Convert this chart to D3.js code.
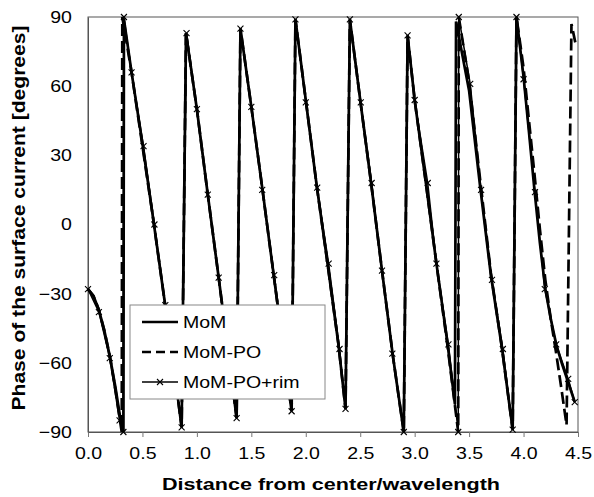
<!DOCTYPE html>
<html>
<head>
<meta charset="utf-8">
<script src="https://cdn.jsdelivr.net/npm/d3@7"></script>
<style>
  body { margin: 0; background: #fff; }
  text { font-family: Arial, "Liberation Sans", sans-serif; }
</style>
</head>
<body>
<script>

let xTicks = [0, 0.5, 1, 1.5, 2, 2.5, 3, 3.5, 4, 4.5];
let yTicks = [-90, -60, -30, 0, 30, 60, 90];
let seriesNames = ["MoM", "MoM-PO", "MoM-PO+rim"];

// MoM (solid)
let distMoM = [0, 0.05, 0.10, 0.15, 0.20, 0.25, 0.30, 0.325, 0.33,
  0.40, 0.50, 0.60, 0.70, 0.80, 0.86, 0.90,
  1.00, 1.10, 1.20, 1.30, 1.365, 1.40,
  1.50, 1.60, 1.70, 1.80, 1.87, 1.905,
  2.00, 2.10, 2.20, 2.30, 2.365, 2.405,
  2.50, 2.60, 2.70, 2.80, 2.90, 2.935,
  3.00, 3.10, 3.20, 3.30, 3.37, 3.38,
  3.50, 3.60, 3.70, 3.80, 3.90, 3.935,
  4.00, 4.05, 4.10, 4.15, 4.20, 4.25, 4.30, 4.35, 4.40, 4.47];
let phaseMoM = [-28, -31, -37, -46, -57, -70, -85, -90, 89,
  66, 35, 2, -32, -66, -88, 83,
  50, 13, -23, -60, -84, 85,
  51, 16, -20, -56, -81, 89,
  54, 17, -17, -52, -80, 89,
  54, 18, -20, -57, -90, 82,
  54, 19, -17, -51, -78, 88,
  58, 17, -22, -53, -89, 90,
  64, 40, 15, -8, -28, -41, -52, -60, -67, -77];

// MoM-PO (dashed)
let distPO = [0, 0.05, 0.10, 0.15, 0.20, 0.25, 0.30, 0.31, 0.315,
  0.40, 0.50, 0.60, 0.70, 0.80, 0.86, 0.90,
  1.00, 1.10, 1.20, 1.30, 1.365, 1.40,
  1.50, 1.60, 1.70, 1.80, 1.87, 1.905,
  2.00, 2.10, 2.20, 2.30, 2.365, 2.405,
  2.50, 2.60, 2.70, 2.80, 2.90, 2.935,
  3.00, 3.10, 3.20, 3.30, 3.40, 3.405,
  3.50, 3.60, 3.70, 3.80, 3.90, 3.935,
  4.00, 4.05, 4.10, 4.15, 4.20, 4.25, 4.30, 4.35, 4.395, 4.44, 4.475];
let phasePO = [-28, -31, -37, -46, -57, -71, -87, -90, 90,
  66, 34, 2, -32, -66, -88, 83,
  50, 13, -23, -60, -84, 85,
  51, 16, -20, -56, -81, 89,
  54, 17, -17, -52, -80, 89,
  54, 18, -20, -57, -90, 82,
  54, 19, -17, -52, -90, 90,
  62, 20, -21, -53, -89, 90,
  68, 45, 22, -2, -24, -41, -56, -72, -87, 87, 79];

// MoM-PO+rim (solid with x markers)
let distRim = [0, 0.10, 0.20, 0.29, 0.325, 0.33,
  0.40, 0.51, 0.61, 0.71, 0.81, 0.86, 0.905,
  1.00, 1.10, 1.20, 1.30, 1.365, 1.40,
  1.50, 1.60, 1.71, 1.81, 1.87, 1.905,
  2.00, 2.105, 2.21, 2.31, 2.365, 2.405,
  2.505, 2.605, 2.70, 2.795, 2.90, 2.935,
  3.00, 3.12, 3.20, 3.31, 3.40, 3.405,
  3.51, 3.61, 3.71, 3.81, 3.90, 3.935,
  4.00, 4.105, 4.195, 4.30, 4.41, 4.47];
let phaseRim = [-28, -38, -58, -85, -90, 90,
  66, 34, 0, -35, -69, -88, 83,
  50, 13, -23, -60, -84, 85,
  51, 15, -22, -58, -81, 89,
  53, 16, -17, -54, -80, 89,
  53, 18, -20, -56, -90, 82,
  54, 18, -17, -52, -90, 90,
  61, 15, -24, -54, -89, 90,
  63, 14, -28, -52, -67, -77];

let canvasW = 594;
let canvasH = 497;
let plotL = 88, plotR = 578, plotT = 17, plotB = 432;
let stretch = 1.15; // the original text is drawn a bit wide

let svg = d3.select("body").append("svg")
  .attr("width", canvasW)
  .attr("height", canvasH);

let x = d3.scaleLinear().domain([0, 4.5]).range([plotL, plotR]);
let y = d3.scaleLinear().domain([-90, 90]).range([plotB, plotT]);

// frame
svg.append("rect")
  .attr("x", plotL).attr("y", plotT)
  .attr("width", plotR - plotL).attr("height", plotB - plotT)
  .attr("fill", "none")
  .attr("stroke", "#555")
  .attr("stroke-width", 1);

let xAxis = svg.append("g")
  .attr("transform", "translate(0," + plotB + ")")
  .call(d3.axisBottom(x).tickValues(xTicks).tickFormat(d3.format(".1f")).tickSize(5).tickPadding(10));

let yAxis = svg.append("g")
  .attr("transform", "translate(" + plotL + ",0)")
  .call(d3.axisLeft(y).tickValues(yTicks).tickSize(0).tickPadding(14));

[xAxis, yAxis].forEach(g => {
  g.select(".domain").attr("stroke", "#555");
  g.selectAll(".tick line").attr("stroke", "#777");
  g.selectAll(".tick text")
    .attr("font-size", "17px")
    .attr("fill", "#000")
    .attr("transform", "scale(" + stretch + ",1)");
});

svg.append("text")
  .attr("x", (plotL + plotR) / 2 - 2)
  .attr("y", 490)
  .attr("text-anchor", "middle")
  .attr("font-size", "17px")
  .attr("font-weight", "bold")
  .attr("textLength", 338)
  .attr("lengthAdjust", "spacingAndGlyphs")
  .text("Distance from center/wavelength");

svg.append("text")
  .attr("transform", "translate(25," + 218 + ") rotate(-90)")
  .attr("text-anchor", "middle")
  .attr("font-size", "19px")
  .attr("font-weight", "bold")
  .attr("textLength", 385)
  .attr("lengthAdjust", "spacingAndGlyphs")
  .text("Phase of the surface current [degrees]");

let line = d3.line()
  .x(d => x(d[0]))
  .y(d => y(d[1]));

let momData = d3.zip(distMoM, phaseMoM);
let poData = d3.zip(distPO, phasePO);
let rimData = d3.zip(distRim, phaseRim);

svg.append("path")
  .datum(poData)
  .attr("d", line)
  .attr("fill", "none")
  .attr("stroke", "#000")
  .attr("stroke-width", 2.7)
  .attr("stroke-dasharray", "12,5");

svg.append("path")
  .datum(momData)
  .attr("d", line)
  .attr("fill", "none")
  .attr("stroke", "#000")
  .attr("stroke-width", 2.7);

svg.append("path")
  .datum(rimData)
  .attr("d", line)
  .attr("fill", "none")
  .attr("stroke", "#000")
  .attr("stroke-width", 1.5);

let cross = "M-3,-3L3,3M-3,3L3,-3";

svg.selectAll(".rim-mark")
  .data(rimData)
  .join("path")
  .attr("class", "rim-mark")
  .attr("d", cross)
  .attr("transform", d => "translate(" + x(d[0]) + "," + y(d[1]) + ")")
  .attr("stroke", "#000")
  .attr("stroke-width", 1.1);

// legend
let legend = svg.append("g");

legend.append("rect")
  .attr("x", 130).attr("y", 305)
  .attr("width", 195).attr("height", 94)
  .attr("fill", "#fff")
  .attr("stroke", "#888")
  .attr("stroke-width", 1);

let legendStyles = [
  { w: 2.5, dash: null, mark: false },
  { w: 2.5, dash: "9,5", mark: false },
  { w: 1.5, dash: null, mark: true }
];

seriesNames.forEach((name, i) => {
  let ly = 322 + i * 30;
  let st = legendStyles[i];
  legend.append("line")
    .attr("x1", 142).attr("x2", 178)
    .attr("y1", ly).attr("y2", ly)
    .attr("stroke", "#000")
    .attr("stroke-width", st.w)
    .attr("stroke-dasharray", st.dash);
  if (st.mark) {
    legend.append("path")
      .attr("d", cross)
      .attr("transform", "translate(160," + ly + ")")
      .attr("stroke", "#000")
      .attr("stroke-width", 1.1);
  }
  legend.append("text")
    .attr("transform", "translate(183," + (ly + 6) + ") scale(" + stretch + ",1)")
    .attr("font-size", "17px")
    .text(name);
});

</script>
</body>
</html>
